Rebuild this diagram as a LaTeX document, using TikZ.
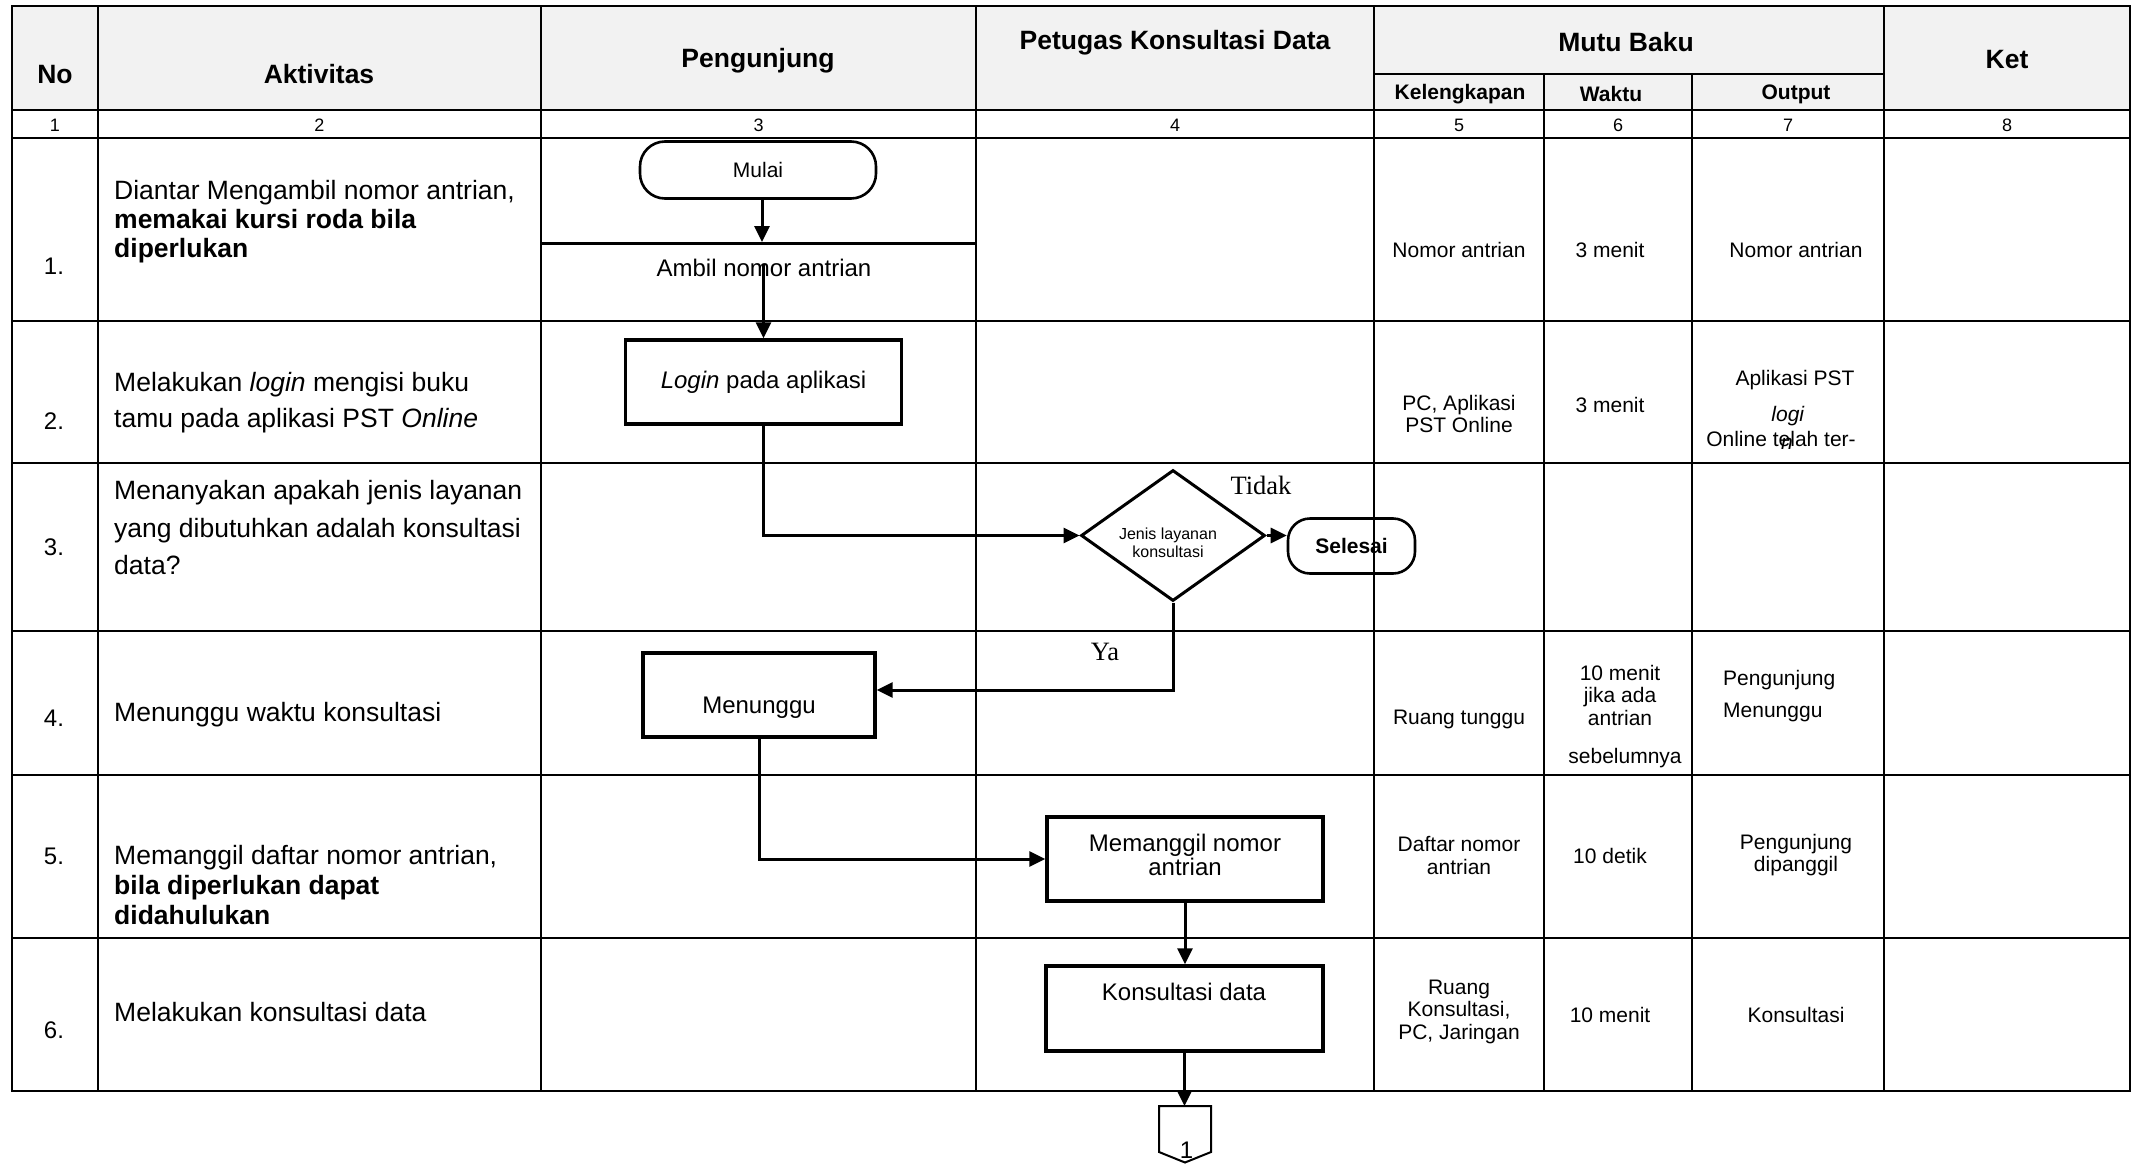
\documentclass[tikz,border=0pt]{standalone}
\usepackage{fontspec}
\setmainfont{Liberation Sans}
\newfontfamily\timesfont{Liberation Serif}
\usetikzlibrary{arrows.meta,shapes.geometric}
\begin{document}
\begin{tikzpicture}[x=1pt,y=-1pt,
  grid/.style={line width=1.9pt},
  procbox/.style={draw,line width=3.4pt,minimum width=276pt,minimum height=84pt,inner sep=0pt},
  term/.style={draw,line width=2.6pt,rounded corners=22pt,inner sep=0pt},
  flow/.style={line width=3pt,-{Triangle[length=16pt,width=15pt]}},
  hd/.style={font=\fontsize{26.5}{30}\selectfont\bfseries,inner sep=0pt},
  sub/.style={font=\fontsize{21}{24}\selectfont\bfseries,inner sep=0pt},
  num/.style={font=\fontsize{18}{20}\selectfont,inner sep=0pt},
  rn/.style={font=\fontsize{24}{26}\selectfont,inner sep=0pt},
  act/.style={font=\fontsize{26.5}{29}\selectfont,align=left,anchor=west,inner sep=0pt},
  cell/.style={font=\fontsize{21}{22.5}\selectfont,align=center,inner sep=0pt},
  ft/.style={font=\fontsize{24}{24}\selectfont,align=center,inner sep=0pt},
  yn/.style={font=\timesfont\fontsize{26.5}{28}\selectfont,inner sep=0pt}
]
\useasboundingbox (0,0) rectangle (2132,1164);
\fill[white] (0,0) rectangle (2132,1164);
% header fill
\fill[black!5] (12,6) rectangle (2130,110);
% grid
\draw[grid] (12,6) rectangle (2130,1091);
\foreach \yy in {110,138,321,463,631,775,938} \draw[grid] (12,\yy) -- (2130,\yy);
\draw[grid] (1374,74) -- (1884,74);
\foreach \xx in {98,541,976,1374,1884} \draw[grid] (\xx,6) -- (\xx,1091);
\foreach \xx in {1544,1692} \draw[grid] (\xx,74) -- (\xx,1091);

% header texts
\node[hd] (hNo) at (55,75) {No};
\node[hd] (hAkt) at (319,74) {Aktivitas};
\node[hd] (hPeng) at (758,61) {Pengunjung};
\node[hd] (hPet) at (1175,43) {Petugas Konsultasi Data};
\node[hd] (hMutu) at (1626,42) {Mutu Baku};
\node[hd] (hKet) at (2007,60) {Ket};
\node[sub] (hKel) at (1460,94) {Kelengkapan};
\node[sub] (hWak) at (1611,94) {Waktu};
\node[sub] (hOut) at (1796,94) {Output};
% number row
\node[num] (n1) at (55,125) {1};
\node[num] (n2) at (319.5,125) {2};
\node[num] (n3) at (758.5,125) {3};
\node[num] (n4) at (1175,125) {4};
\node[num] (n5) at (1459,125) {5};
\node[num] (n6) at (1618,125) {6};
\node[num] (n7) at (1788,125) {7};
\node[num] (n8) at (2007,125) {8};

% row numbers
\node[rn] (r1) at (54,266) {1.};
\node[rn] (r2) at (54,421) {2.};
\node[rn] (r3) at (54,547) {3.};
\node[rn] (r4) at (54,718) {4.};
\node[rn] (r5) at (54,856) {5.};
\node[rn] (r6) at (54,1030) {6.};

% activities
\node[act] (a1t) at (114,222) {Diantar Mengambil nomor antrian,\\\textbf{memakai kursi roda bila}\\\textbf{diperlukan}};
\node[act,font=\fontsize{26.5}{36}\selectfont] (a2t) at (114,403) {Melakukan \textit{login} mengisi buku\\tamu pada aplikasi PST \textit{Online}};
\node[act,font=\fontsize{26.5}{37.5}\selectfont] (a3t) at (114,528) {Menanyakan apakah jenis layanan\\yang dibutuhkan adalah konsultasi\\data?};
\node[act] (a4t) at (114,715) {Menunggu waktu konsultasi};
\node[act,font=\fontsize{26.5}{30}\selectfont] (a5t) at (114,885) {Memanggil daftar nomor antrian,\\\textbf{bila diperlukan dapat}\\\textbf{didahulukan}};
\node[act] (a6t) at (114,1012) {Melakukan konsultasi data};

% mutu baku cells
\node[cell] (k1) at (1459,250) {Nomor antrian};
\node[cell] (w1) at (1610,250) {3 menit};
\node[cell] (o1) at (1796,250) {Nomor antrian};
\node[cell] (k2) at (1459,414) {PC, Aplikasi\\PST Online};
\node[cell] (w2) at (1610,405) {3 menit};
\node[cell] (o2a) at (1795,380) {Aplikasi PST};
\node[cell] (o2b) at (1788,416) {\textit{logi}};
\node[cell] (o2c) at (1781,439) {Online telah ter-};
\node[cell] (o2d) at (1787,444) {\textit{n}};
\node[cell] (k4) at (1459,719) {Ruang tunggu};
\node[cell] (w4a) at (1620,695) {10 menit\\jika ada\\antrian};
\node[cell] (w4b) at (1625,758) {sebelumnya};
\node[cell,align=left,anchor=west,font=\fontsize{21}{31.5}\selectfont] (o4) at (1723,696) {Pengunjung\\Menunggu};
\node[cell] (k5) at (1459,855.5) {Daftar nomor\\antrian};
\node[cell] (w5) at (1610,856) {10 detik};
\node[cell] (o5) at (1796,855) {Pengunjung\\dipanggil};
\node[cell] (k6) at (1459,1011.5) {Ruang\\Konsultasi,\\PC, Jaringan};
\node[cell] (w6) at (1610,1015) {10 menit};
\node[cell] (o6) at (1796,1015) {Konsultasi};

% flowchart
\node[term,rounded corners=25pt,minimum width=236pt,minimum height=57pt,font=\fontsize{21}{22}\selectfont] (mulai) at (758,170) {Mulai};
\draw[line width=3pt] (541,243) -- (976,243);
\coordinate (ambtop) at (762,242);
\node[ft] (ambil) at (764,268) {Ambil nomor antrian};
\coordinate (ambst) at (763.5,264);
\node[procbox,font=\fontsize{24}{24}\selectfont] (login) at (763.5,382) {\textit{Login} pada aplikasi};
\node[draw,diamond,line width=3pt,minimum width=184pt,minimum height=131pt,inner sep=0pt] (dec) at (1173,535.5) {};
\node[ft,font=\fontsize{16}{18.5}\selectfont] (dectxt) at (1168,543) {Jenis layanan\\konsultasi};
\node[term,rounded corners=22pt,minimum width=127pt,minimum height=55pt,font=\fontsize{21}{22}\selectfont\bfseries] (sel) at (1351.5,546) {Selesai};
\node[yn] (tidak) at (1261,485) {Tidak};
\node[yn] (ya) at (1105,652) {Ya};
\node[procbox,minimum width=232pt] (menunggu) at (759,695) {};
\node[ft] (menunggutxt) at (759,708) {Menunggu};
\node[procbox] (panggil) at (1185,859) {};
\node[ft,font=\fontsize{24}{23.5}\selectfont] (panggiltxt) at (1185,855) {Memanggil nomor\\antrian};
\node[procbox,minimum width=277pt,minimum height=85pt] (konsul) at (1184.5,1008.5) {};
\node[ft] (konsultxt) at (1184,992) {Konsultasi data};
% off-page connector
\draw[line width=2pt] (1159,1106) -- (1211,1106) -- (1211,1152) -- (1185,1162.5) -- (1159,1152) -- cycle;
\coordinate (ctop) at (1185,1106);
\node[font=\fontsize{24}{24}\selectfont,inner sep=0pt] (conn) at (1186.5,1150) {1};

% connectors
\draw[flow] (mulai.south -| ambtop) -- (ambtop);
\draw[flow] (ambst) -- (login.north);
\draw[flow] (login.south) |- (dec.west);
\draw[flow] (dec.east) -- (sel.west |- dec.east);
\draw[flow] (dec.south) |- ([yshift=5pt]menunggu.east);
\draw[flow] (menunggu.south) |- (panggil.west);
\draw[flow] (panggil.south) -- (panggil.south |- konsul.north);
\draw[flow] (konsul.south) -- (konsul.south |- ctop);
\end{tikzpicture}
\end{document}
